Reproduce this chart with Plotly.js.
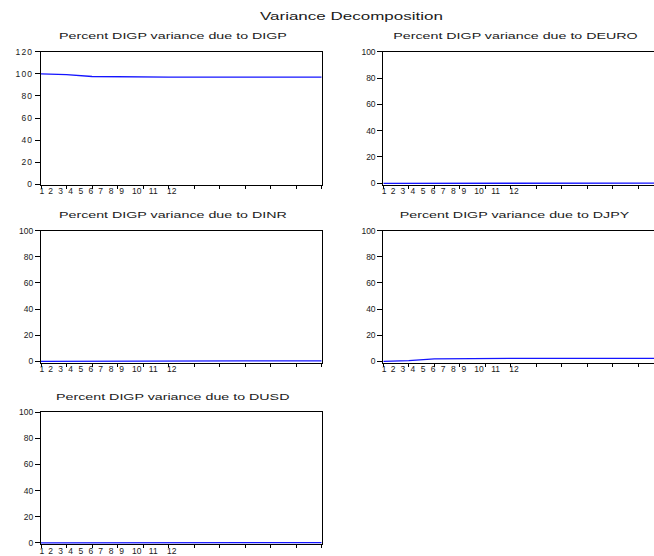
<!DOCTYPE html>
<html>
<head>
<meta charset="utf-8">
<script src="https://cdn.plot.ly/plotly-3.0.1.min.js"></script>
<style>
  html, body { margin: 0; padding: 0; overflow: hidden; background: #fff; }
  #chart { width: 700px; height: 556px; }
  /* wide, airy lettering of the panel headings */
  .annotation .annotation-text { transform-box: fill-box; transform-origin: center; transform: scaleX(1.5); }
  .annotation[data-index="0"] .annotation-text { transform: scaleX(1.65); }
  .xtick text, .ytick text { letter-spacing: 1.2px; }
</style>
</head>
<body>
<div id="chart"></div>
<script>
// forecast horizon (periods)
const periods = [1, 2, 3, 4, 5, 6, 7, 8, 9, 10, 11, 12];
const periodLabels = ['1', '2', '3', '4', '5', '6', '7', '8', '9', '10', '11', '12'];

// percent of DIGP forecast-error variance explained by each shock
const dueToDIGP  = [100, 99.3, 97.6, 97.25, 97.1, 97.05, 97.05, 97.05, 97.05, 97.05, 97.05, 97.05];
const dueToDEURO = [0, 0.05, 0.15, 0.15, 0.15, 0.15, 0.15, 0.15, 0.15, 0.15, 0.15, 0.15];
const dueToDINR  = [0, 0.1, 0.2, 0.25, 0.3, 0.3, 0.3, 0.3, 0.3, 0.3, 0.3, 0.3];
const dueToDJPY  = [0, 0.5, 1.9, 2.2, 2.3, 2.3, 2.3, 2.3, 2.3, 2.3, 2.3, 2.3];
const dueToDUSD  = [0, 0.05, 0.15, 0.15, 0.15, 0.2, 0.2, 0.2, 0.2, 0.2, 0.2, 0.2];

const shockNames = ['DIGP', 'DEURO', 'DINR', 'DJPY', 'DUSD'];
const shockSeries = [dueToDIGP, dueToDEURO, dueToDINR, dueToDJPY, dueToDUSD];
const yTicksDIGP = [0, 20, 40, 60, 80, 100, 120];
const yTicksOther = [0, 20, 40, 60, 80, 100];

// ---- layout geometry (pixels on a 700 x 556 canvas) ----
const W = 700, H = 556;
const colLeft = [41, 383.3];
const plotW = 280.7;
const rowTop = [51.7, 230.7, 412.3];
const rowBottom = [184.5, 362.5, 544];
const cells = [[0, 0], [0, 1], [1, 0], [1, 1], [2, 0]]; // [row, col] per panel
// where the crowded period labels sit along the horizon axis
const labelPos = [1.03, 1.38, 1.77, 2.16, 2.56, 2.95, 3.34, 3.75, 4.16, 4.75, 5.40, 6.12];

const textFont = { family: 'Liberation Sans, Arial, sans-serif', color: '#1a1a1a' };
const tickFont = Object.assign({}, textFont, { size: 8.5 });

const data = [];
const layout = {
  width: W, height: H,
  margin: { l: 0, r: 0, t: 0, b: 0 },
  paper_bgcolor: '#fff', plot_bgcolor: '#fff',
  showlegend: false,
  annotations: [{
    text: 'Variance Decomposition', showarrow: false,
    xref: 'paper', yref: 'paper', x: 351.7 / W, y: 1 - 16 / H,
    xanchor: 'center', yanchor: 'middle',
    font: Object.assign({}, textFont, { size: 10.3 })
  }]
};

cells.forEach(([r, c], i) => {
  const xs = i === 0 ? '' : String(i + 1);
  const xMain = 'x' + xs, yName = 'y' + (i + 1), xLab = 'x' + (i + 6);
  const left = colLeft[c];
  const yMax = i === 0 ? 120 : 100;
  const yLow = i === 0 ? 0 : -0.9;

  data.push({
    type: 'scatter', mode: 'lines',
    x: periods, y: shockSeries[i],
    xaxis: xMain, yaxis: yName,
    line: { color: 'rgb(20,20,255)', width: 1.3 },
    hoverinfo: 'skip'
  });
  // empty carrier so the period-label axis gets drawn
  data.push({
    type: 'scatter', mode: 'lines', x: [], y: [],
    xaxis: xLab, yaxis: yName, hoverinfo: 'skip'
  });

  layout['xaxis' + xs] = {
    domain: [left / W, (left + plotW) / W], anchor: yName,
    range: [1, 12], tickmode: 'array', tickvals: periods,
    showticklabels: false, ticks: 'outside', ticklen: 3, tickwidth: 1, tickcolor: '#000',
    showline: true, mirror: true, linecolor: '#000', linewidth: 1,
    showgrid: false, zeroline: false, layer: 'below traces', fixedrange: true
  };
  layout['xaxis' + (i + 6)] = {
    overlaying: xMain, anchor: yName, side: 'bottom',
    range: [1, 12], tickmode: 'array', tickvals: labelPos, ticktext: periodLabels,
    ticks: '', showline: false, showgrid: false, zeroline: false,
    tickfont: tickFont, fixedrange: true
  };
  layout['yaxis' + (i + 1)] = {
    domain: [1 - rowBottom[r] / H, 1 - rowTop[r] / H], anchor: xMain,
    range: [yLow, yMax], tickmode: 'array',
    tickvals: i === 0 ? yTicksDIGP : yTicksOther,
    ticks: 'outside', ticklen: 5, tickwidth: 1, tickcolor: '#000',
    showline: true, mirror: true, linecolor: '#000', linewidth: 1,
    showgrid: false, zeroline: false, layer: 'below traces',
    tickfont: tickFont, fixedrange: true
  };
  layout.annotations.push({
    text: 'Percent DIGP variance due to ' + shockNames[i], showarrow: false,
    xref: 'paper', yref: 'paper', x: (left + 132) / W, y: 1 - (rowTop[r] - 16) / H,
    xanchor: 'center', yanchor: 'middle',
    font: Object.assign({}, textFont, { size: 9.5 })
  });
});

Plotly.newPlot('chart', data, layout, { displayModeBar: false, staticPlot: true });
</script>
</body>
</html>
